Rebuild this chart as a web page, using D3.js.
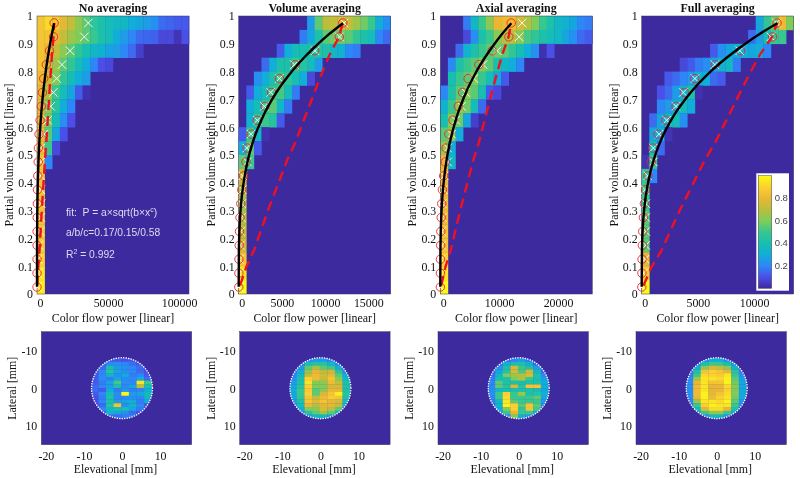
<!DOCTYPE html>
<html><head><meta charset="utf-8">
<script src="https://cdn.jsdelivr.net/npm/d3@7"></script>
<style>html,body{margin:0;padding:0;background:#fff}svg{display:block;filter:blur(0.35px)}text{font-family:"Liberation Serif",serif;fill:#111}</style>
</head><body><svg id="c" width="800" height="478"></svg>
<script>
// ---------- shared data ----------
const titles = ["No averaging","Volume averaging","Axial averaging","Full averaging"];
const yLabelTop = "Partial volume weight [linear]";
const xLabelTop = "Color flow power [linear]";
const yLabelBottom = "Lateral [mm]";
const xLabelBottom = "Elevational [mm]";
const weightTicks = [0,0.1,0.2,0.3,0.4,0.5,0.6,0.7,0.8,0.9,1];
const powerMax = [107000,17600,25830,13530];
const powerTicks = [[0,50000,100000],[0,5000,10000,15000],[0,10000,20000],[0,5000,10000]];
const weightBins = [0.975,0.925,0.875,0.825,0.775,0.725,0.675,0.625,0.575,0.525,0.475,0.425,0.375,0.325,0.275,0.225,0.175,0.125,0.075,0.025];
const circlePower = [12050,11650,8800,6550,4720,3800,3050,2150,1450,980,850,560,350,240,150,90,60,30,20,10];
const crossPower = [
 [36150,33330,23240,17600,13850,11500,9620,7510,4930,2600,2600,2500,2700,2900,2700,2200,1300,700,400,200],
 [12200,11660,8840,6450,4710,3710,2970,2160,1430,930,1000,460,420,350,310,230,150,80,40,30],
 [13900,13390,9660,7290,5710,4290,3620,2600,1920,1240,1240,680,510,340,340,230,230,110,60,50],
 [11990,11490,8730,6510,4740,3700,3050,2220,1540,1040,1040,530,300,360,360,360,360,300,150,20]];
const fitPower  = [0,20,60,150,355,650,1095,1480,1920,2370,3050,3850,4740,5600,6510,7500,8730,10360,12080];
const fitWeight = [0.026,0.155,0.21,0.273,0.35,0.417,0.486,0.53,0.572,0.607,0.654,0.699,0.743,0.779,0.814,0.848,0.886,0.932,0.974];
const linePower  = [150,890,1780,2520,3400,4140,5620,6510,8580,9470,10510,11600,12050];
const lineWeight = [0.03,0.098,0.158,0.224,0.302,0.362,0.482,0.542,0.71,0.782,0.86,0.925,0.975];
const colorbarTicks = [0.2,0.4,0.6,0.8];
const fitNotes = ["fit:\u00a0\u00a0P = a×sqrt(b×x","a/b/c=0.17/0.15/0.58","R"];

// 2D histograms: rows from weight 1 down to 0, columns from power 0 upward (missing = background)
const histNone = [
 [.85,.92,.85,.78,.72,.62,.55,.47,.42,.38,.36,.35,.3,.28,.25,.22,.15,.14,.12,.12],
 [.85,.85,.8,.72,.65,.6,.55,.5,.42,.38,.3,.25,.2,.15,.14,.13,.08,.08,.03,.1],
 [.85,.8,.72,.62,.55,.48,.4,.35,.32,.27,.25,.2,.15,.06],
 [.85,.75,.65,.55,.48,.38,.3,.2,.1,.08],
 [.82,.72,.6,.48,.38,.3,.25],
 [.8,.68,.5,.38,.28,.12,.02],
 [.8,.6,.45,.3,.2],
 [.8,.58,.38,.22,.1],
 [.8,.55,.28,.1],
 [.8,.5,.08],
 [.85,.2],[.85],[.85],[.85],[.85],[.87],[.88],[.9],[.95],[.97]];
const histVolume = [
 [0,0,0,0,0,0,0,0,0,.25,.55,.7,.72,.75,.72,.65,.58,.5,.3,.22],
 [0,0,0,0,0,0,0,0,.18,.28,.42,.55,.58,.58,.55,.48,.42,.38,.2,.15],
 [0,0,0,0,0,.12,.3,.38,.4,.42,.45,.42,.35,.32,.2,.18],
 [0,0,0,.15,.3,.42,.42,.5,.45,.38,.25],
 [0,0,.22,.3,.42,.5,.48,.4,.3,.08],
 [0,.12,.3,.38,.5,.52,.38,.18],
 [0,.3,.38,.48,.55,.35,.18],
 [0,.32,.48,.5,.45,.12],
 [.12,.5,.35,.02],
 [.3,.55,.12],
 [.55,.5],[.72],[.68],[.65],[.68],[.7],[.75],[.85],[.95],[1]];
const histAxial = [
 [0,0,0,.18,.35,.5,.62,.8,.82,.82,.75,.68,.6,.5,.42,.35,.32,.28,.2,.18],
 [0,0,0,.08,.22,.42,.5,.62,.68,.7,.62,.52,.48,.42,.38,.35,.28,.22,.15,.12],
 [0,0,.15,.33,.42,.5,.55,.58,.55,.48,.4,.3,.22,.02,.1],
 [0,.2,.42,.5,.55,.6,.55,.42,.35,.3,.2],
 [0,.4,.5,.55,.6,.5,.38,.28,.12],
 [.2,.42,.55,.6,.55,.4,.12,.08],
 [.32,.5,.65,.58,.38,.15],
 [.4,.6,.58,.28,.06],
 [.55,.65,.3],
 [.65,.3],
 [.8,.35],[.82],[.8],[.82],[.82],[.85],[.85],[.9],[.95],[1]];
const histFull = [
 [0,0,0,0,0,0,0,0,0,0,0,0,0,0,0,.28,.48,.58,.82,.6],
 [0,0,0,0,0,0,0,0,0,0,0,0,0,0,.15,.25,.4,.5,.5],
 [0,0,0,0,0,0,0,0,0,.12,.22,.28,.32,.3,.28,.3,.2],
 [0,0,0,0,0,.08,.12,.18,.22,.28,.32,.35,.18],
 [0,0,0,.12,.15,.2,.25,.32,.3,.15,.12],
 [0,0,.1,.15,.25,.32,.42,.02],
 [0,0,.2,.25,.32,.38,.3],
 [0,.15,.28,.35,.38,.22],
 [0,.28,.3,.03],
 [0,.38,.15],
 [.03,.5],[.48,.2],[.5],[.5],[.55],[.55],[.55],[.78],[.88],[1]];
const hists = [histNone,histVolume,histAxial,histFull];

// Cross-section maps: rows lateral -8..7 mm, columns elevational -8.2..5.8 mm
const mapNone = [
 [.05,.1,.12,.12,.1,.12,.1,.05],[.08,.15,.2,.22,.2,.15,.12,.08],[.1,.15,.4,.25,.22,.2,.15,.1],[.1,.2,.45,.28,.22,.2,.15,.1],
 [.12,.2,.35,.22,.3,.18,.2,.12],[.12,.22,.18,.28,.2,.2,.3,.15],[.12,.18,.28,.52,.22,.2,.95,.5],[.15,.2,.25,.42,.2,.28,.7,.4],
 [.15,.12,.3,.18,.25,.18,.2,.3],[.12,.2,.4,.22,1,.25,.28,.38],[.1,.18,.42,.2,.2,.22,.2,.35],[.1,.2,.4,.25,.28,.3,.18,.3],
 [.1,.15,.45,.85,.22,.32,.2,.12],[.08,.2,.35,.4,.4,.28,.18,.08],[.08,.12,.32,.28,.22,.15,.1,.08],[.05,.08,.15,.15,.18,.22,.08,.05]];
const mapVolume = [
 [0,.12,.2,.25,.25,.2,.12,.05],[.05,.2,.38,.45,.45,.35,.2,.08],[.1,.25,.55,.65,.55,.5,.3,.12],[.15,.3,.62,.8,.7,.72,.45,.2],
 [.2,.35,.72,.82,.75,.8,.55,.3],[.22,.4,.9,.82,.72,.85,.6,.35],[.25,.42,.95,.6,.62,.82,.72,.42],[.28,.45,.9,.6,.6,.75,.75,.42],
 [.3,.5,.88,.55,.62,.8,.8,.42],[.28,.5,.9,.55,.75,.85,.98,.45],[.28,.48,.85,.72,.82,.88,.85,.42],[.25,.42,.85,.78,.85,.8,.75,.38],
 [.2,.38,.8,.7,.78,.78,.72,.3],[.15,.3,.6,.62,.78,.72,.55,.22],[.1,.2,.45,.55,.65,.55,.35,.12],[.03,.12,.25,.35,.35,.3,.15,.05]];
const mapAxial = [
 [.02,.1,.15,.2,.25,.18,.1,.03],[.05,.15,.3,.4,.42,.3,.15,.06],[.08,.22,.42,.75,.5,.42,.25,.1],[.1,.28,.45,.75,.52,.72,.35,.15],
 [.15,.35,.6,.65,.68,.78,.42,.2],[.18,.38,.42,.6,.68,.5,.4,.25],[.2,.55,.42,.42,.4,.42,.42,.3],[.2,.55,.45,.75,.45,.85,.85,.3],
 [.22,.35,.4,.4,.42,.42,.38,.28],[.22,.5,.9,.5,.65,.42,.45,.3],[.2,.5,.92,.5,.5,.5,.55,.28],[.18,.35,.95,.55,.5,.5,.5,.25],
 [.15,.32,.98,.9,.55,.85,.55,.2],[.1,.3,.62,.9,.48,.85,.52,.15],[.05,.2,.5,.8,.5,.5,.3,.08],[.02,.1,.2,.6,.3,.25,.1,.03]];
const mapFull = [
 [0,.1,.2,.3,.3,.2,.1,.02],[.03,.2,.4,.5,.5,.4,.25,.05],[.08,.3,.6,.75,.72,.6,.35,.1],[.12,.42,.85,.9,.85,.8,.45,.18],
 [.18,.5,.92,.9,.88,.95,.5,.22],[.2,.65,.95,.95,.92,.98,.55,.25],[.22,.8,.95,.85,.85,.98,.58,.28],[.22,.82,.95,.8,.8,.92,.6,.28],
 [.22,.82,.95,.78,.8,.9,.6,.28],[.22,.82,.98,.78,.85,.92,.6,.28],[.22,.8,.98,.82,.9,.95,.58,.28],[.2,.65,.95,.95,.92,.98,.55,.25],
 [.18,.5,.9,.98,.95,.95,.5,.22],[.12,.4,.78,.92,.92,.8,.42,.15],[.06,.25,.5,.62,.62,.5,.3,.08],[.02,.12,.22,.35,.35,.25,.12,.03]];
const maps = [mapNone,mapVolume,mapAxial,mapFull];
const mapColStart = -8.2, mapColWidth = 2, mapRowStart = -8, mapRowHeight = 1, maskRadius = 8;

// ---------- layout ----------
const topLeft = [37,238.7,440.3,641.7], topWidth = 152, topY0 = 16, topY1 = 294;
const botLeft = [41.3,239.7,438,636], botWidth = 150.4, botY0 = 331.7, botY1 = 444.7;
const elevDomain = [-21.2,18.3], latDomain = [-15,15];
const elevTicks = [-20,-10,0,10], latTicks = [-10,0,10];

const paruColors = ["#3e2a9f","#4a4fe8","#2d87f7","#10aed8","#17bfb0","#37c78f","#80cc59","#b9bf3a","#eab735","#fcd030","#f9fb15"];
const color = d3.scaleLinear().domain(d3.range(0,1.0001,0.1)).range(paruColors).clamp(true);

const svg = d3.select("#c");
const defs = svg.append("defs");
const labelSize = 11.9;

function styleAxis(g){
  g.select(".domain").remove();
  g.selectAll(".tick line").remove();
  g.selectAll("text").attr("font-size",labelSize).attr("font-family","Liberation Serif");
}

titles.forEach((title,i)=>{
  // ---- top panel ----
  const x = d3.scaleLinear().domain([0,powerMax[i]]).range([topLeft[i],topLeft[i]+topWidth]);
  const y = d3.scaleLinear().domain([0,1]).range([topY1,topY0]);
  const g = svg.append("g");
  g.append("rect").attr("x",x.range()[0]).attr("y",topY0).attr("width",topWidth).attr("height",topY1-topY0).attr("fill",color(0));
  const binW = powerMax[i]/20, binH = 0.05;
  const cells = hists[i].flatMap((row,r)=>row.map((v,c)=>({v,c,r}))).filter(d=>d.v>0);
  g.selectAll("rect.cell").data(cells).join("rect").attr("class","cell")
    .attr("x",d=>x(d.c*binW)).attr("y",d=>y(1-d.r*binH))
    .attr("width",x(binW)-x(0)+0.3).attr("height",y(0)-y(binH)+0.3)
    .attr("fill",d=>color(d.v));
  g.append("rect").attr("x",x.range()[0]).attr("y",topY0).attr("width",topWidth).attr("height",topY1-topY0)
    .attr("fill","none").attr("stroke","#3a3a5a").attr("stroke-width",0.5);

  // crosses
  const sym = d3.symbol().type(d3.symbolX).size(48);
  g.selectAll("path.cross").data(weightBins).join("path").attr("class","cross")
    .attr("d",sym).attr("transform",(d,k)=>`translate(${x(crossPower[i][k])},${y(d)})`)
    .attr("fill","none").attr("stroke","#fff").attr("stroke-width",0.9);
  // circles
  g.selectAll("circle.pt").data(weightBins).join("circle").attr("class","pt")
    .attr("cx",(d,k)=>x(circlePower[k])).attr("cy",d=>y(d)).attr("r",4.2)
    .attr("fill","none").attr("stroke","#e8262a").attr("stroke-width",0.9);
  // dashed line
  const ln = d3.line().x(d=>x(d[0])).y(d=>y(d[1]));
  g.append("path").attr("d",ln(d3.zip(linePower,lineWeight))).attr("fill","none")
    .attr("stroke","#ee1122").attr("stroke-width",2.4).attr("stroke-dasharray","10,6");
  // fit
  const fit = d3.line().curve(d3.curveMonotoneY).x(d=>x(d[0])).y(d=>y(d[1]));
  g.append("path").attr("d",fit(d3.zip(fitPower,fitWeight))).attr("fill","none")
    .attr("stroke","#000").attr("stroke-width",2.4);

  // axes
  const ax = svg.append("g").attr("transform",`translate(0,${topY1})`)
    .call(d3.axisBottom(x).tickValues(powerTicks[i]).tickFormat(d3.format("d")).tickSize(0).tickPadding(5)).call(styleAxis);
  ax.selectAll(".tick text").filter(d=>d===0).attr("dx",3);
  svg.append("g").attr("transform",`translate(${x.range()[0]},0)`)
    .call(d3.axisLeft(y).tickValues(weightTicks).tickFormat(d=>String(d)).tickSize(0).tickPadding(4)).call(styleAxis);

  svg.append("text").attr("x",x.range()[0]+topWidth/2).attr("y",12).attr("text-anchor","middle")
    .attr("font-weight","bold").attr("font-size",12).text(title);
  svg.append("text").attr("x",x.range()[0]+topWidth/2).attr("y",322).attr("text-anchor","middle")
    .attr("font-size",labelSize).text(xLabelTop);
  svg.append("text").attr("transform",`translate(${x.range()[0]-24},${(topY0+topY1)/2}) rotate(-90)`)
    .attr("text-anchor","middle").attr("font-size",labelSize).text(yLabelTop);

  // ---- bottom panel ----
  const bx = d3.scaleLinear().domain(elevDomain).range([botLeft[i],botLeft[i]+botWidth]);
  const by = d3.scaleLinear().domain(latDomain).range([botY0,botY1]);
  const b = svg.append("g");
  b.append("rect").attr("x",botLeft[i]).attr("y",botY0).attr("width",botWidth).attr("height",botY1-botY0).attr("fill",color(0));
  const clipId = "mask"+i;
  defs.append("clipPath").attr("id",clipId).append("circle")
    .attr("cx",bx(0)).attr("cy",by(0)).attr("r",bx(maskRadius)-bx(0));
  const mc = maps[i].flatMap((row,r)=>row.map((v,c)=>({v,c,r})));
  b.append("g").attr("clip-path",`url(#${clipId})`).selectAll("rect").data(mc).join("rect")
    .attr("x",d=>bx(mapColStart+d.c*mapColWidth)).attr("y",d=>by(mapRowStart+d.r*mapRowHeight))
    .attr("width",bx(mapColWidth)-bx(0)+0.3).attr("height",by(mapRowHeight)-by(0)+0.3)
    .attr("fill",d=>color(d.v));
  b.append("circle").attr("cx",bx(0)).attr("cy",by(0)).attr("r",bx(maskRadius)-bx(0))
    .attr("fill","none").attr("stroke","#fff").attr("stroke-width",1.5)
    .attr("stroke-linecap","round").attr("stroke-dasharray","0.1,2.4");
  b.append("rect").attr("x",botLeft[i]).attr("y",botY0).attr("width",botWidth).attr("height",botY1-botY0)
    .attr("fill","none").attr("stroke","#3a3a5a").attr("stroke-width",0.5);
  svg.append("g").attr("transform",`translate(0,${botY1})`)
    .call(d3.axisBottom(bx).tickValues(elevTicks).tickFormat(d=>String(d)).tickSize(0).tickPadding(7)).call(styleAxis);
  svg.append("g").attr("transform",`translate(${botLeft[i]},0)`)
    .call(d3.axisLeft(by).tickValues(latTicks).tickFormat(d=>String(d)).tickSize(0).tickPadding(4)).call(styleAxis);
  svg.append("text").attr("x",botLeft[i]+botWidth/2-1).attr("y",473).attr("text-anchor","middle")
    .attr("font-size",labelSize).text(xLabelBottom);
  svg.append("text").attr("transform",`translate(${botLeft[i]-25},${(botY0+botY1)/2}) rotate(-90)`)
    .attr("text-anchor","middle").attr("font-size",labelSize).text(yLabelBottom);
});

// ---- fit annotation ----
const noteStyle = s=>s.style("font-family","Liberation Sans").style("fill","#dcdcf0").attr("font-size",10.3);
const n1 = svg.append("text").attr("x",66).attr("y",216).call(noteStyle).text(fitNotes[0]);
n1.append("tspan").attr("dy",-4).attr("font-size",7).text("c");
n1.append("tspan").attr("dy",4).text(")");
svg.append("text").attr("x",66).attr("y",236).call(noteStyle).text(fitNotes[1]);
const n3 = svg.append("text").attr("x",66).attr("y",258).call(noteStyle).text(fitNotes[2]);
n3.append("tspan").attr("dy",-4).attr("font-size",7).text("2");
n3.append("tspan").attr("dy",4).text(" = 0.992");

// ---- colorbar ----
const cbX = 758.3, cbW = 13.4, cbY0 = 175.7, cbY1 = 288.3;
svg.append("rect").attr("x",756.3).attr("y",173.3).attr("width",32.7).attr("height",117.4).attr("fill","#fff");
const grad = defs.append("linearGradient").attr("id","cb").attr("x1",0).attr("x2",0).attr("y1",1).attr("y2",0);
paruColors.forEach((c,i)=>grad.append("stop").attr("offset",i/(paruColors.length-1)).attr("stop-color",c));
svg.append("rect").attr("x",cbX).attr("y",cbY0).attr("width",cbW).attr("height",cbY1-cbY0)
  .attr("fill","url(#cb)").attr("stroke","#444").attr("stroke-width",0.5);
const cbScale = d3.scaleLinear().domain([0,1]).range([cbY1,cbY0]);
svg.selectAll("text.cb").data(colorbarTicks).join("text").attr("class","cb")
  .attr("x",cbX+cbW+3).attr("y",d=>cbScale(d)+3.2)
  .style("font-family","Liberation Sans").style("fill","#444").attr("font-size",9.5).text(d=>d.toFixed(1));
</script></body></html>
